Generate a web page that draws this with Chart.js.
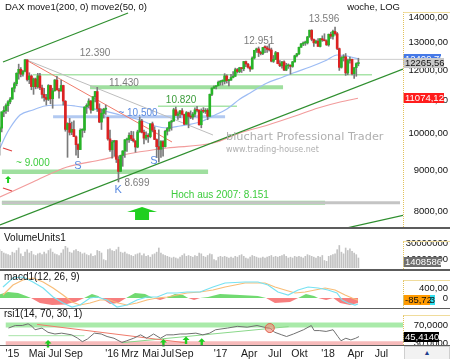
<!DOCTYPE html>
<html lang="de">
<head>
<meta charset="utf-8">
<title>DAX Wochenchart</title>
<script src="https://cdn.jsdelivr.net/npm/chart.js@4.4.1/dist/chart.umd.min.js"></script>
<style>
  html, body { margin: 0; padding: 0; background: #fff; }
  body { position: relative; width: 450px; height: 359px; overflow: hidden; }
  canvas { position: absolute; left: 0; }
  .sep { position: absolute; left: 0; width: 450px; background: #5c5c5c; }
  .axisbox { position: absolute; left: 403px; width: 46px; border-left: 1px dotted #e2c25c; border-top: 1px solid #f0dc9c; }
  .nav { position: absolute; left: 404px; top: 346px; width: 44px; height: 12px; background: #f2f2f2; border: 1px solid #cfcfcf;
         font: 7px "Liberation Sans", Arial, sans-serif; color: #1e3c8c; text-align: center; line-height: 12px; }
</style>
</head>
<body>
<canvas id="cMain" width="450" height="228" style="top:0"></canvas>
<canvas id="cVol" width="450" height="39" style="top:229px"></canvas>
<canvas id="cMacd" width="450" height="37" style="top:271px"></canvas>
<canvas id="cRsi" width="450" height="50" style="top:309px"></canvas>
<div class="sep" style="top:227px;height:2px"></div>
<div class="sep" style="top:269px;height:2px"></div>
<div class="sep" style="top:308px;height:1px"></div>
<div class="sep" style="top:345px;height:1px"></div>
<div class="axisbox" style="top:12px;height:214px"></div>
<div class="axisbox" style="top:241px;height:27px"></div>
<div class="axisbox" style="top:280px;height:27px"></div>
<div class="axisbox" style="top:315px;height:29px"></div>
<div class="nav">&#9650;</div>
<script>
// Zeitachse in Wochen, Woche 0 = Freitag 02.01.2015
const firstWeek = 2;
const xTickWeeks = [5.5, 17.3, 25.8, 34.7, 53.1, 61.6, 71.5, 79.5, 87.5, 104.9, 118.6, 130.8, 142.6, 156.2, 169.4, 181.7];
const xTickLabels = ["'15", 'Mai', 'Jul', 'Sep', "'16", 'Mrz', 'Mai', 'Jul', 'Sep', "'17", 'Apr', 'Jul', 'Okt', "'18", 'Apr', 'Jul'];

// Wochenkerzen DAX
const openValues = [
  9780,10160,10650,10690,10840,10960,11050,11400,11550,11900,12040,11870,11970,12370,11690,11810,11450,11710,11450,11810,11410,11200,11100,11040,11490,11060,11320,11670,11340,11310,11490,10980,10120,10300,10040,10120,9910,9690,9550,10100,10100,10800,10850,10990,10700,11120,11290,10750,10340,10600,10730,
  10480,9850,9545,9760,9800,9280,8970,9390,9510,9820,9830,9950,9850,9790,9620,10050,10370,10040,9870,9950,9915,10290,10100,9830,9630,9560,9775,9630,10070,10150,10340,10370,10710,10540,10590,10680,10570,10280,10620,10510,10490,10580,10710,10700,10260,10670,10660,10700,10510,11200,11400,11450,
  11480,11600,11630,11630,11810,11650,11670,11760,11800,12030,11960,12090,12060,12310,12220,12110,12050,12440,12720,12770,12640,12600,12820,12810,12750,12730,12320,12390,12630,12240,12160,12300,12010,12160,12170,12140,12300,12520,12590,12830,12950,12990,12990,13220,13470,13120,12990,13060,12860,13150,13100,13070,
  12920,13320,13240,13430,13340,12780,12110,12450,12480,11910,12350,12390,11890,12100,12240
];
const highValues = [
  10200,10650,10810,10900,11000,11100,11420,11600,11920,12220,12100,12000,12390,12380,11920,11850,11740,11740,11900,11900,11500,11400,11200,11520,11500,11400,11690,11800,11400,11670,11500,11000,10320,10450,10340,10380,9940,9710,10140,10140,10810,10900,11060,11000,11140,11300,11430,10900,10740,10760,10860,
  10490,10100,9810,9810,9800,9360,9400,9520,9830,9870,10020,10070,10060,9800,10100,10490,10420,10100,10050,10000,10290,10340,10200,9850,10110,9800,9800,10100,10180,10350,10400,10760,10800,10650,10690,10750,10580,10660,10640,10680,10630,10770,10820,10710,10740,10780,10750,10750,11210,11410,11480,11490,
  11640,11660,11680,11890,11850,11700,11870,11960,12080,12070,12110,12100,12320,12330,12250,12150,12480,12720,12800,12840,12690,12830,12880,12870,12951,12800,12530,12680,12640,12350,12320,12340,12250,12230,12200,12320,12540,12610,12840,12980,13030,13060,13240,13480,13500,13140,13100,13160,13160,13260,13340,13110,
  13330,13400,13480,13596,13390,12800,12490,12560,12600,12400,12470,12400,12100,12270,12430
];
const lowValues = [
  9400,10050,10500,10600,10660,10900,11040,11280,11480,11700,11780,11800,11950,11640,11550,11350,11200,11380,11400,11350,11080,10980,10860,11000,10900,10760,11300,11340,11080,11300,10860,10070,9340,9960,9970,9910,9400,9330,9550,9900,10030,10600,10780,10610,10690,10960,10660,10320,10120,10460,10570,
  9812,9500,9314,9370,9200,8699,8960,9100,9340,9500,9750,9800,9760,9480,9600,10040,10020,9710,9820,9750,9880,10050,9830,9330,9214,9340,9370,9620,9960,10070,10100,10360,10530,10420,10470,10550,10260,10270,10170,10440,10420,10500,10650,10250,10170,10620,10600,10410,10510,11160,11390,11380,
  11480,11500,11500,11540,11570,11480,11660,11740,11790,11910,11920,11930,11990,12130,12080,11970,12050,12400,12640,12490,12550,12560,12630,12640,12690,12300,12280,12380,12230,12130,12080,11990,11990,12070,11870,12110,12290,12480,12560,12820,12890,12900,12950,13200,13070,12860,12970,12860,12840,13050,13070,12900,
  12870,13160,13130,13290,12740,12000,12080,12330,11830,11850,12250,11850,11730,11800,12160
];
const closeValues = [
  10168,10649,10694,10846,10963,11050,11402,11551,11901,12039,11868,11967,12375,11689,11811,11454,11709,11447,11815,11413,11197,11100,11040,11492,11058,11316,11673,11347,11308,11490,10985,10124,10298,10038,10123,9916,9688,9553,10096,10104,10795,10850,10988,10708,11119,11293,10752,10340,10608,10727,10743,
  9849,9545,9764,9798,9286,8967,9388,9513,9824,9831,9950,9851,9794,9622,10051,10373,10039,9870,9952,9916,10287,10103,9834,9631,9557,9776,9629,10067,10147,10337,10367,10713,10544,10588,10684,10573,10276,10626,10511,10490,10580,10711,10696,10259,10668,10665,10699,10513,11203,11404,11450,11481,
  11599,11629,11630,11814,11651,11666,11757,11804,12027,11963,12095,12064,12313,12225,12109,12049,12438,12717,12770,12638,12602,12823,12816,12753,12733,12325,12389,12631,12240,12163,12297,12014,12165,12168,12142,12304,12518,12592,12829,12955,12992,12991,13217,13478,13127,12994,13060,12861,13153,13103,13072,12918,
  13320,13245,13434,13340,12785,12107,12452,12483,11914,12346,12390,11886,12097,12241,12265.56
];
// Volumen in Mio.
const volumeValues = [
  22,20,18,17,16,15,19,18,21,24,17,14,19,22,18,20,16,15,17,18,16,19,17,21,23,19,17,16,15,18,22,26,24,19,18,21,22,20,19,17,18,16,15,17,14,15,21,20,18,10,9,
  22,23,21,20,22,25,19,18,19,17,16,15,14,16,17,18,15,17,14,15,13,16,17,19,24,18,16,15,14,13,12,13,12,11,13,15,17,14,15,14,13,15,14,18,17,14,13,15,17,16,10,9,
  13,14,13,14,13,12,13,12,14,13,15,16,14,12,11,13,15,14,13,12,12,13,12,13,14,15,13,14,13,14,15,16,14,12,13,12,14,13,14,13,12,14,16,15,14,13,12,14,13,15,9,8,
  14,15,16,17,22,27,19,17,24,21,23,20,18,16,12
];
const volumeLast = 1408586;

// gleitende Durchschnitte
const maSlowWeeks = [2.2, 17.7, 33.8, 49.3, 64.9, 80.9, 102.5, 115.2, 128.4, 141.2, 152.0, 162.4, 170.8];
const maSlowValues = [8330, 8698, 9083, 9268, 9457, 9594, 9734, 10020, 10252, 10522, 10768, 10956, 11074.12];
const maFastWeeks = [2.2, 4.56, 6.91, 11.62, 17.74, 23.4, 31.9, 37.5, 43.2, 49.3, 58.7, 68.1, 75.2, 80.9, 87.0, 96.4, 103.5, 109.1, 115.2, 120.0, 128.0, 135.5, 140.2, 148.2, 156.2, 160.9, 165.6, 170.8];
const maFastValues = [9594, 9904, 10164, 10552, 10707, 10830, 10862, 10830, 10768, 10707, 10552, 10402, 10223, 10164, 10223, 10342, 10552, 10737, 11051, 11245, 11574, 11775, 11913, 12120, 12368, 12547, 12510, 12409.70];

// horizontale Marken (Kurs, von Woche, bis Woche)
const levelValues = [12390, 11850, 11430, 10820, 10500, 8960, 8190, 8190];
const levelFrom = [14, 17.7, 44.6, 76.6, 27.2, 3.1, 3.1, 3.1];
const levelTo = [192, 177.4, 135.5, 113.8, 108.2, 100.2, 190.6, 155.3];

// Trendlinien
const trendFromWeek = [3.6, 2.2, 164.7, 14, 14, 3.6, 3.6];
const trendFromValue = [12296, 7683, 7610, 12390, 12390, 9594, 8549];
const trendToWeek = [62.5, 192, 192, 83.2, 102.5, 7.85, 7.85];
const trendToValue = [14162, 12050, 7902, 9762, 9961, 9512, 8476];

// Beschriftungen im Kurschart
const noteTexts = ['12.390', '11.430', '10.820', '~ 10.500', '~ 9.000', 'S', 'S', 'K', '8.699', 'Hoch aus 2007: 8.151', '12.951', '13.596'];
const noteWeeks = [46.95, 60.6, 87.5, 67.2, 17.7, 38.9, 74.7, 57.8, 66.7, 105.8, 124.2, 154.8];
const noteValues = [12619, 11573, 11019, 10613, 9188, 9108, 9242, 8500, 8673, 8379, 13063, 13919];
const mainArrowWeeks = [69.1, 6.0];
const mainArrowValues = [8093, 8851];

// MACD
const macdWeeks = [3.6, 8.3, 13.0, 17.7, 22.5, 27.2, 31.9, 36.1, 39.9, 44.6, 47.9, 52.6, 57.3, 62.0, 66.7, 71.4, 76.2, 80.9, 85.6, 90.3, 96.4, 102.5, 108.2, 117.6, 123.7, 128.4, 133.1, 137.9, 142.6, 147.3, 152.0, 156.7, 160.9, 163.3, 166.1, 169.4, 170.8];
const macdValues = [440, 800, 840, 640, 400, 40, -200, -360, -280, 0, 40, -80, -360, -280, -80, 40, 40, 200, 200, 240, 240, 440, 600, 640, 640, 520, 240, 120, 320, 440, 400, 320, 200, -80, -200, -280, -240];
const signalWeeks = [3.6, 8.3, 13.0, 17.7, 22.5, 27.2, 31.9, 36.1, 39.9, 44.6, 49.3, 54.0, 57.8, 62.0, 66.7, 71.4, 76.2, 80.9, 85.6, 90.3, 96.4, 102.5, 108.2, 117.6, 127.0, 131.7, 136.4, 141.2, 145.9, 150.6, 155.3, 160.0, 164.7, 168.0, 170.8];
const signalValues = [120, 520, 720, 800, 640, 400, 120, -160, -280, -200, -80, -80, -200, -280, -200, -80, 0, 40, 120, 200, 240, 320, 440, 600, 600, 440, 320, 200, 240, 320, 400, 320, 120, 0, -85.72];
const histWeeks = [2.2, 6.0, 10.7, 14.5, 16.8, 21.0, 26.7, 32.8, 38.0, 41.8, 45.5, 48.4, 49.8, 54.0, 57.8, 61.6, 65.8, 70.5, 74.3, 77.6, 80.4, 84.6, 88.4, 90.8, 93.6, 96.4, 100.2, 105.8, 115.2, 123.7, 127.5, 131.7, 138.8, 142.6, 146.3, 150.1, 152.0, 155.8, 159.1, 162.4, 167.1, 170.8];
const histValues = [150, 240, 200, 80, 0, -200, -280, -260, -150, 0, 160, 80, 0, -240, -200, 0, 200, 160, 0, -80, 0, 160, 120, 0, -80, 0, 40, 160, 120, 80, 0, -200, -160, 0, 160, 80, 0, -80, 0, -200, -280, -200];

// RSI
const rsiWeeks = [3.6, 6.9, 10.2, 13.0, 14.9, 16.3, 19.6, 22.5, 25.8, 29.0, 33.8, 36.6, 38.9, 41.3, 44.6, 47.9, 50.7, 54.0, 57.8, 60.1, 63.4, 66.7, 69.6, 72.9, 76.2, 79.0, 82.3, 85.6, 88.4, 93.1, 96.4, 99.7, 102.5, 108.2, 112.9, 117.6, 122.3, 125.6, 128.4, 130.8, 134.1, 136.4, 139.7, 144.5, 148.2, 149.6, 152.0, 155.3, 158.6, 160.9, 162.4, 164.7, 167.1, 169.4, 171.0];
const rsiValues = [63.6, 69.1, 69.1, 72.7, 67.3, 60, 63.6, 54.5, 50.9, 52.7, 49.1, 42, 34.5, 40, 52.7, 50.9, 45.5, 41.8, 32.7, 36.4, 41.8, 49.1, 41.8, 50.9, 41.8, 49.1, 49.1, 50.9, 50.9, 52.7, 49.1, 52.7, 60, 63.6, 67.3, 65.5, 69.1, 65.5, 63.6, 54.5, 49.1, 45.5, 50.9, 60, 69.1, 58.2, 58.2, 56.4, 60, 45.5, 36.4, 41.8, 38.2, 41.8, 45.414];
const rsiLevelValues = [70, 30, 47.3];
const rsiLevelFrom = [2.2, 2.2, 3.6];
const rsiLevelTo = [192, 192, 39.9];
const rsiTrendFromWeek = [17.3, 57.8];
const rsiTrendFromValue = [71.5, 32.2];
const rsiTrendToWeek = [87.9, 137.4];
const rsiTrendToValue = [32.2, 66.7];
const rsiArrowWeeks = [22.5, 77.6, 88.4, 95.9];
const rsiArrowValues = [38.2, 40, 45.5, 41.8];
const rsiMarkWeek = [128.4];
const rsiMarkValue = [63.6];

// ---------- Darstellung ----------
const X_MIN = 2.2, X_MAX = 192.0;
const UP = '#27b427', DOWN = '#dc2222', WICK = '#7a7a7a';
const FONT = '"Liberation Sans", Arial, sans-serif';

const levelStyles = [
  {c: '#cdcdcd', w: 1}, {c: '#a8e4a8', w: 1.5}, {c: 'rgba(135,215,135,0.8)', w: 4}, {c: '#a8e4a8', w: 1.5},
  {c: 'rgba(170,195,240,0.9)', w: 3}, {c: 'rgba(135,215,135,0.8)', w: 4.5}, {c: '#c4c4c4', w: 3}, {c: 'rgba(135,215,135,0.85)', w: 4}
];
const trendStyles = [
  {c: '#2f8f2f', w: 1.3}, {c: '#2f8f2f', w: 1.3}, {c: '#2f8f2f', w: 1.3}, {c: '#f07a6a', w: 1},
  {c: '#bdbdbd', w: 1}, {c: '#e04040', w: 1.2}, {c: '#e04040', w: 1.2}
];
const noteColors = ['#7c7c7c', '#7c7c7c', '#3c9c3c', '#5a8ae0', '#3dcc3d', '#5a8ae0', '#5a8ae0', '#5a8ae0', '#7c7c7c', '#3dcc3d', '#7c7c7c', '#7c7c7c'];
const arrowSizes = [[15, 5, 7, 8], [3, 3, 1, 4]];

const weeks = openValues.map((_, i) => firstWeek + i);
const pts = (ws, vs) => ws.map((w, i) => ({x: w, y: vs[i]}));
const seg = (x1, y1, x2, y2) => [{x: x1, y: y1}, {x: x2, y: y2}];
const fmt = (v, d) => v.toFixed(d).replace('.', ',');

function lineDs(data, color, width, order) {
  return {type: 'line', data, borderColor: color, borderWidth: width, pointRadius: 0, fill: false, tension: 0, order};
}

function baseOptions(y, padBottom) {
  return {
    responsive: false, animation: false, devicePixelRatio: 1, events: [],
    layout: {padding: {left: 0, right: 47, top: 0, bottom: padBottom || 0}},
    plugins: {legend: {display: false}, tooltip: {enabled: false}, title: {display: false}},
    scales: {
      x: {type: 'linear', min: X_MIN, max: X_MAX, display: false, offset: false},
      y: Object.assign({display: false}, y)
    }
  };
}

function axisText(ctx, text, y) {
  ctx.font = '9.5px ' + FONT;
  ctx.fillStyle = '#111';
  ctx.textAlign = 'right';
  ctx.textBaseline = 'middle';
  ctx.fillText(text, 448, y);
}
function valueBox(ctx, text, y, bg, fg, right, alignRight) {
  ctx.fillStyle = bg;
  ctx.fillRect(403.5, Math.round(y) - 5, right - 403.5, 10);
  ctx.font = '9.5px ' + FONT;
  ctx.fillStyle = fg;
  ctx.textAlign = alignRight ? 'right' : 'left';
  ctx.textBaseline = 'middle';
  ctx.fillText(text, alignRight ? right : 405, Math.round(y) + 0.5);
}
function panelTitle(ctx, text, y) {
  ctx.font = '10px ' + FONT;
  ctx.fillStyle = '#111';
  ctx.textAlign = 'left';
  ctx.textBaseline = 'middle';
  ctx.fillText(text, 4, y);
}
function drawArrow(ctx, x, yTip, s, color) {
  const [hh, hl, sh, sl] = s;
  ctx.fillStyle = color;
  ctx.beginPath();
  ctx.moveTo(x, yTip);
  ctx.lineTo(x + hh, yTip + hl);
  ctx.lineTo(x + sh, yTip + hl);
  ctx.lineTo(x + sh, yTip + hl + sl);
  ctx.lineTo(x - sh, yTip + hl + sl);
  ctx.lineTo(x - sh, yTip + hl);
  ctx.lineTo(x - hh, yTip + hl);
  ctx.closePath();
  ctx.fill();
}

// ---------- Kurschart ----------
const mainSets = [];
levelValues.forEach((v, i) => mainSets.push(lineDs(seg(levelFrom[i], v, levelTo[i], v), levelStyles[i].c, levelStyles[i].w, 6)));
trendFromWeek.forEach((w, i) => mainSets.push(lineDs(seg(w, trendFromValue[i], trendToWeek[i], trendToValue[i]), trendStyles[i].c, trendStyles[i].w, 3)));
mainSets.push(Object.assign(lineDs(pts(maSlowWeeks, maSlowValues), '#f29c9c', 1.2, 4), {cubicInterpolationMode: 'monotone'}));
mainSets.push(Object.assign(lineDs(pts(maFastWeeks, maFastValues), '#9dbcf4', 1.2, 4), {cubicInterpolationMode: 'monotone'}));
mainSets.push({
  type: 'bar', order: 2, grouped: false, barThickness: 1, backgroundColor: WICK,
  data: weeks.map((w, i) => ({x: w, y: [lowValues[i], highValues[i]]}))
});
mainSets.push({
  type: 'bar', order: 1, grouped: false, barThickness: 2, minBarLength: 1,
  backgroundColor: weeks.map((w, i) => closeValues[i] >= openValues[i] ? UP : DOWN),
  data: weeks.map((w, i) => ({x: w, y: [Math.min(openValues[i], closeValues[i]), Math.max(openValues[i], closeValues[i])]}))
});

const mainPlugin = {
  id: 'mainDeco',
  afterDatasetsDraw(chart) {
    const {ctx, scales: {x, y}} = chart;
    ctx.save();
    // Wasserzeichen
    ctx.fillStyle = '#b0b0b0';
    ctx.textAlign = 'left';
    ctx.textBaseline = 'middle';
    ctx.font = '11.3px "DejaVu Sans", sans-serif';
    ctx.fillText('bluchart Professional Trader', 226, 137);
    ctx.font = '8px "DejaVu Sans", sans-serif';
    ctx.fillText('www.trading-house.net', 226, 150);

    ctx.textAlign = 'center';
    noteTexts.forEach((t, i) => {
      ctx.font = (t.length === 1 ? '11px ' : '10px ') + FONT;
      ctx.fillStyle = noteColors[i];
      ctx.fillText(t, x.getPixelForValue(noteWeeks[i]), y.getPixelForValue(noteValues[i]));
    });
    mainArrowWeeks.forEach((w, i) => drawArrow(ctx, x.getPixelForValue(w), y.getPixelForValue(mainArrowValues[i]), arrowSizes[i], '#1fcf1f'));

    ctx.font = '9.5px ' + FONT;
    ctx.fillStyle = '#111';
    ctx.textAlign = 'left';
    ctx.fillText('DAX move1(200, 0) move2(50, 0)', 5, 7);
    ctx.textAlign = 'right';
    ctx.fillText('woche, LOG', 400, 7);

    [8000, 9000, 10000, 11000, 12000, 13000, 14000].forEach(v => axisText(ctx, fmt(v, 2), y.getPixelForValue(v)));
    valueBox(ctx, fmt(maFastValues[maFastValues.length - 1], 2), y.getPixelForValue(maFastValues[maFastValues.length - 1]), '#4679e6', '#fff', 441);
    valueBox(ctx, fmt(closeValues[closeValues.length - 1], 2), y.getPixelForValue(closeValues[closeValues.length - 1]), '#c9c9c9', '#111', 444);
    valueBox(ctx, fmt(maSlowValues[maSlowValues.length - 1], 2), y.getPixelForValue(maSlowValues[maSlowValues.length - 1]), '#ff1c1c', '#fff', 444);
    ctx.restore();
  }
};

new Chart(document.getElementById('cMain'), {
  type: 'bar',
  data: {datasets: mainSets},
  options: baseOptions({type: 'logarithmic', min: 7617, max: 14704}),
  plugins: [mainPlugin]
});

// ---------- Volumen ----------
new Chart(document.getElementById('cVol'), {
  type: 'bar',
  data: {datasets: [{
    data: weeks.map((w, i) => ({x: w, y: volumeValues[i]})),
    backgroundColor: '#c2c2c2', barThickness: 1, grouped: false
  }]},
  options: baseOptions({type: 'linear', min: 0, max: 46.8}),
  plugins: [{
    id: 'volDeco',
    afterDatasetsDraw(chart) {
      const {ctx, scales: {y}} = chart;
      ctx.save();
      panelTitle(ctx, 'VolumeUnits1', 9);
      [10, 30].forEach(v => axisText(ctx, String(v * 1000000), y.getPixelForValue(v)));
      valueBox(ctx, String(volumeLast), 33, '#6e6e6e', '#fff', 441);
      ctx.restore();
    }
  }]
});

// ---------- MACD ----------
new Chart(document.getElementById('cMacd'), {
  type: 'line',
  data: {datasets: [
    {data: pts(histWeeks, histValues), borderWidth: 0, pointRadius: 0, tension: 0, order: 3,
     fill: {target: {value: 0}, above: 'rgba(98,214,98,0.9)', below: 'rgba(246,112,112,0.9)'}},
    lineDs(pts(signalWeeks, signalValues), '#f8bd78', 1.2, 2),
    lineDs(pts(macdWeeks, macdValues), '#78e2f2', 1.2, 1)
  ]},
  options: baseOptions({type: 'linear', min: -400, max: 1080}),
  plugins: [{
    id: 'macdDeco',
    afterDatasetsDraw(chart) {
      const {ctx, scales: {y}} = chart;
      ctx.save();
      panelTitle(ctx, 'macd1(12, 26, 9)', 6);
      axisText(ctx, '400,00', y.getPixelForValue(400));
      axisText(ctx, '0', y.getPixelForValue(0));
      const yl = y.getPixelForValue(signalValues[signalValues.length - 1]);
      valueBox(ctx, fmt(macdValues[macdValues.length - 1], 2).replace(/0+$/, '') + '3', yl, '#33e0f0', '#111', 435, true);
      valueBox(ctx, fmt(signalValues[signalValues.length - 1], 2), yl, '#ff9a00', '#111', 430);
      ctx.restore();
    }
  }]
});

// ---------- RSI ----------
const rsiLevelStyles = [{c: 'rgba(160,232,160,0.9)', w: 5}, {c: 'rgba(246,180,180,0.9)', w: 5}, {c: '#a8e4a8', w: 1}];
const rsiSets = [];
rsiLevelValues.forEach((v, i) => rsiSets.push(lineDs(seg(rsiLevelFrom[i], v, rsiLevelTo[i], v), rsiLevelStyles[i].c, rsiLevelStyles[i].w, 5)));
rsiSets.push(lineDs(seg(rsiTrendFromWeek[0], rsiTrendFromValue[0], rsiTrendToWeek[0], rsiTrendToValue[0]), '#f07a6a', 1, 3));
rsiSets.push(lineDs(seg(rsiTrendFromWeek[1], rsiTrendFromValue[1], rsiTrendToWeek[1], rsiTrendToValue[1]), '#8ad88a', 1, 3));
rsiSets.push(lineDs(pts(rsiWeeks, rsiValues), '#707070', 1, 2));
rsiSets.push({type: 'line', showLine: false, data: pts(rsiMarkWeek, rsiMarkValue), order: 1,
  pointRadius: 4.5, pointBackgroundColor: 'rgba(240,140,120,0.6)', pointBorderColor: '#e0604c', pointBorderWidth: 1});

new Chart(document.getElementById('cRsi'), {
  type: 'line',
  data: {datasets: rsiSets},
  options: baseOptions({type: 'linear', min: 27.3, max: 92.7}, 14),
  plugins: [{
    id: 'rsiDeco',
    afterDatasetsDraw(chart) {
      const {ctx, scales: {x, y}} = chart;
      ctx.save();
      rsiArrowWeeks.forEach((w, i) => drawArrow(ctx, x.getPixelForValue(w), y.getPixelForValue(rsiArrowValues[i]), [3.5, 3.5, 1.2, 4], '#1fcf1f'));
      panelTitle(ctx, 'rsi1(14, 70, 30, 1)', 5);
      axisText(ctx, '70,0000', y.getPixelForValue(70));
      axisText(ctx, '30,0000', y.getPixelForValue(30));
      valueBox(ctx, fmt(rsiValues[rsiValues.length - 1], 4), y.getPixelForValue(rsiValues[rsiValues.length - 1]), '#000', '#fff', 439);
      ctx.font = '10.5px ' + FONT;
      ctx.fillStyle = '#1a1a1a';
      ctx.textAlign = 'center';
      ctx.textBaseline = 'middle';
      xTickWeeks.forEach((w, i) => ctx.fillText(xTickLabels[i], x.getPixelForValue(w), 45));
      ctx.restore();
    }
  }]
});
</script>
</body>
</html>
